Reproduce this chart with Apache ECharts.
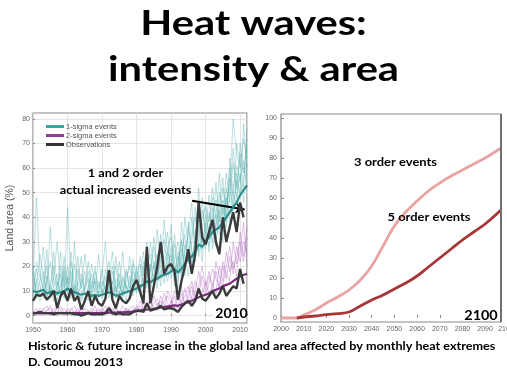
<!DOCTYPE html>
<html><head><meta charset="utf-8">
<script src="https://cdn.jsdelivr.net/npm/echarts@6/dist/echarts.min.js"></script>
<style>html,body{margin:0;padding:0;background:#fff}#c{width:507px;height:381px}</style>
</head><body><div id="c"></div>
<script>
// ---------- Left chart data (1950-2012) ----------
const years = [1950,1951,1952,1953,1954,1955,1956,1957,1958,1959,
1960,1961,1962,1963,1964,1965,1966,1967,1968,1969,
1970,1971,1972,1973,1974,1975,1976,1977,1978,1979,
1980,1981,1982,1983,1984,1985,1986,1987,1988,1989,
1990,1991,1992,1993,1994,1995,1996,1997,1998,1999,
2000,2001,2002,2003,2004,2005,2006,2007,2008,2009,
2010,2011,2012];
const xTicksLeft = [1950,1960,1970,1980,1990,2000,2010];
const yTicksLeft = [0,10,20,30,40,50,60,70,80];

const teal1 = [14,48,18,10,7,12,9,6,20,11, 15,9,12,6,8,5,11,17,8,10, 7,14,22,9,12,6,10,19,13,8, 16,21,12,24,18,28,14,33,22,17, 25,12,20,31,18,36,27,22,45,30, 38,26,44,35,50,41,58,46,62,52, 66,58,72];
const teal2 = [8,12,25,15,9,36,14,11,7,18, 10,22,13,8,15,9,6,12,20,7, 11,8,15,26,10,14,7,12,9,21, 12,9,20,15,30,19,25,16,39,23, 18,29,14,24,33,21,40,28,35,48, 30,42,33,54,38,47,40,60,44,55, 50,78,60];
const teal3 = [18,9,14,28,11,8,16,30,13,9, 44,14,9,19,11,25,13,8,15,11, 17,30,10,13,20,9,15,11,24,14, 9,18,26,11,21,14,35,20,13,28, 32,20,11,38,24,16,30,44,26,36, 46,31,38,28,45,56,36,50,68,48, 58,46,62];
const teal4 = [5,15,8,12,20,10,6,14,9,24, 12,7,30,10,6,13,18,9,7,14, 9,12,7,18,8,22,12,6,16,10, 20,13,9,18,12,22,17,27,19,14, 21,16,26,17,29,23,19,35,24,31, 27,36,30,41,33,39,48,42,52,61, 54,63,57];
const teal5 = [20,10,6,9,14,22,11,8,12,16, 9,18,8,14,24,7,10,21,12,9, 14,10,18,8,15,11,26,9,13,18, 13,24,16,30,10,17,21,12,26,34, 15,23,30,20,40,28,22,31,52,27, 34,49,27,37,43,30,52,38,46,70, 62,52,76];
const teal6 = [10,19,12,7,16,9,26,12,17,7, 16,11,21,9,12,18,8,14,10,25, 8,19,11,14,7,17,9,15,20,12, 18,11,14,20,25,12,16,24,31,18, 28,18,24,15,26,33,46,25,39,22, 41,34,48,31,40,52,44,56,40,58, 48,56,68];
const teal7 = [15,7,10,18,8,13,20,9,26,12, 20,13,10,24,9,11,15,7,18,12, 12,16,9,11,24,13,8,18,11,15, 10,15,22,13,17,32,20,15,22,26, 20,33,17,27,21,25,33,40,30,43, 35,28,40,47,35,44,38,64,50,45, 70,60,54];
const teal8 = [9,22,16,11,27,7,12,17,8,20, 13,26,7,12,17,10,22,11,14,8, 19,9,13,20,11,8,16,12,9,23, 15,8,18,25,14,20,11,29,17,21, 37,14,21,30,16,38,24,28,34,40, 44,38,52,40,58,36,46,52,80,66, 60,72,64];

const purple1 = [1,2,0,3,1,0,2,1,4,1, 2,0,1,3,0,1,2,0,1,3, 1,2,4,1,0,2,1,3,1,2, 3,1,5,2,6,3,2,8,4,3, 6,2,4,9,5,7,12,6,10,8, 14,9,12,18,11,20,15,24,17,28, 22,30,26];
const purple2 = [0,1,3,1,2,4,1,0,2,3, 1,2,4,1,2,0,1,3,2,1, 3,1,2,0,3,1,4,2,0,3, 1,4,2,6,3,5,7,3,9,5, 4,8,3,6,11,5,8,14,9,16, 10,16,13,9,20,14,26,18,22,16, 34,24,36];
const purple3 = [2,0,1,2,4,1,3,2,1,0, 3,1,2,0,4,2,1,2,0,2, 2,4,1,3,1,2,0,3,2,1, 4,2,3,5,2,8,4,6,3,10, 7,3,9,5,8,12,6,10,18,11, 8,13,19,15,12,22,17,14,30,21, 26,38,20];
const purple4 = [1,3,1,0,2,3,0,4,2,1, 0,3,1,2,1,3,2,1,4,0, 2,1,3,2,4,0,2,1,3,4, 2,6,3,4,7,2,5,4,6,8, 5,10,6,12,4,9,14,8,12,20, 12,18,10,22,16,12,20,28,19,24, 30,22,32];

const tealMean = [10,9.5,10,10.5,9,9.5,10,9,9.5,10, 11,10,9.5,9,8.5,9,8.5,8,8.5,8, 8.5,9,9.5,9,8,8.5,9,9.5,10,10.5, 11,12,12.5,14,13.5,14.5,15,16,16.5,17, 18,19,17.5,19,21,23,24,26,29,28, 30,32,34,35,36,38,40,42,44,46, 49,51,53];
const purpleMean = [1,1,1,1,1,1,1,1,1,1, 1,1,1,1,1,1,1,1,1,1, 1,1,1.2,1.2,1.2,1.3,1.3,1.4,1.5,1.6, 1.8,2,2.2,2.5,2.5,2.8,3,3.2,3.5,3.8, 4,4.2,4,4.5,5,5.5,6,6.8,7.5,8, 8.5,9,10,10.5,11,12,12.5,13,14,15, 16,16.5,17];
const obs1sigma = [6,8.5,8,9,6.5,8,10,3,8,10, 6,11,6,8,2.5,6,10,4,8,5, 4,7,18.5,6.5,3,8,6,5,7,12, 14.5,10,5,28,5,12,20,30,17,20, 21,18,6.5,14,20,27,17,25,46,32, 29,34,39,30,25,40,30,36,42,34, 46,40,null];
const obs2sigma = [1,1,1.5,1,1,1,0.5,1,1,1, 1,1,0.5,0.5,0,0.5,1,0.5,0.5,0.5, 0.5,1,3,1,0.5,1,0.5,0.5,0.5,1.5, 2,2,1.5,5,2,2.5,3,4,2.5,3, 3,2.5,1.5,3.5,5,6,4,6,11,7, 6,8,10,7,9,12,8,10,12,11, 19,13,null];

const bandYears = [1950,1955,1960,1965,1970,1975,1980,1985,1990,1995,2000,2005,2010,2012];
const tealLow  = [2,2,2,2,2,2,3,4,5,8,12,18,25,30];
const tealHigh = [20,22,20,18,19,20,24,30,33,38,48,58,70,72];
const purpleLow  = [0,0,0,0,0,0,0,0,0,0,0,0,0,0];
const purpleHigh = [3,3,3,3,3,4,5,8,10,14,20,28,36,40];

// ---------- Right chart data ----------
const xTicksRight = [2000,2010,2020,2030,2040,2050,2060,2070,2080,2090];
const yTicksRight = [0,10,20,30,40,50,60,70,80,90,100];
const order3Years = [2000,2007,2010,2015,2020,2025,2030,2035,2040,2045,2050,2055,2060,2065,2070,2075,2080,2085,2090,2097];
const order3 = [0,0,1.5,4,7.5,10.5,14,19,26,36,46,53,58.5,63.5,67.5,71,74,77,80,85];
const order5Years = [2007,2010,2015,2020,2025,2030,2035,2040,2045,2050,2055,2060,2065,2070,2075,2080,2085,2090,2097];
const order5 = [0,0.5,1,1.7,2.2,3,6,9,11.5,14.5,17.5,21,25.5,30,34.5,39,43,47,54];

// ---------- build ----------
const pair = (xs, vs) => xs.map((x, i) => [x, vs[i]]);
const diff = (a, b) => a.map((v, i) => v - b[i]);
const FONT = 'Lato, "Open Sans", sans-serif';
const SANS = '"Liberation Sans", Arial, sans-serif';
const plain = v => String(v);

const thinTeal = [teal1,teal2,teal3,teal4,teal5,teal6,teal7,teal8].map((d, i) => ({
  type:'line', name:'t'+i, xAxisIndex:0, yAxisIndex:0, data:pair(years,d), showSymbol:false, silent:true,
  lineStyle:{width:0.7, color:'rgba(70,165,165,0.5)'}, z:3
}));
const thinPurple = [purple1,purple2,purple3,purple4].map((d, i) => ({
  type:'line', name:'p'+i, xAxisIndex:0, yAxisIndex:0, data:pair(years,d), showSymbol:false, silent:true,
  lineStyle:{width:0.7, color:'rgba(170,80,185,0.5)'}, z:5
}));
const band = (low, high, color, stack, z) => [
  {type:'line', name:stack+'L', stack:stack, xAxisIndex:0, yAxisIndex:0, data:pair(bandYears,low), showSymbol:false, silent:true, lineStyle:{width:0, opacity:0}, z:z},
  {type:'line', name:stack+'H', stack:stack, xAxisIndex:0, yAxisIndex:0, data:pair(bandYears,diff(high,low)), showSymbol:false, silent:true, lineStyle:{width:0, opacity:0}, areaStyle:{color:color}, z:z}
];

const axisLabelStyle = {color:'#666', fontSize:7, fontFamily:SANS, formatter:plain};

const txt = (t, x, y, size, sx, extra) => ({type:'text', x:x, y:y, scaleX:sx, z:20,
  style:Object.assign({text:t, font:'bold '+size+'px '+FONT, fill:'#000', textAlign:'center', textVerticalAlign:'middle'}, extra||{})});

const option = {
  animation:false,
  backgroundColor:'#fff',
  grid:[
    {left:33, top:113, width:214, height:210, show:true, borderColor:'#8a8a8a', borderWidth:1.2, backgroundColor:'#fff', containLabel:false},
    {left:281, top:114, width:220, height:208, show:true, borderColor:'#8a8a8a', borderWidth:1.2, backgroundColor:'#fff', containLabel:false}
  ],
  legend:{
    data:['1-sigma events','2-sigma events','Observations'],
    orient:'vertical', left:41, top:117, itemWidth:18, itemHeight:3, itemGap:0, icon:'rect', selectedMode:false,
    textStyle:{color:'#555', fontSize:7.5, lineHeight:9, fontFamily:SANS, padding:[0,0,0,-3]}
  },
  xAxis:[
    {type:'value', gridIndex:0, min:1950, max:2012, interval:10,
     axisLine:{show:false}, axisTick:{show:true, inside:true, length:2, lineStyle:{color:'#888'}},
     axisLabel:{...axisLabelStyle, margin:4, customValues:xTicksLeft},
     splitLine:{show:true, lineStyle:{color:'#dedede', width:0.8}}},
    {type:'value', gridIndex:1, min:2000, max:2097, interval:10,
     axisLine:{show:false}, axisTick:{show:true, inside:true, length:3, lineStyle:{color:'#888'}},
     axisLabel:{...axisLabelStyle, margin:4, customValues:xTicksRight},
     splitLine:{show:false}}
  ],
  yAxis:[
    {type:'value', gridIndex:0, min:-3, max:82.4,
     name:'Land area (%)', nameLocation:'middle', nameGap:17, nameRotate:90,
     nameTextStyle:{color:'#555', fontSize:10.5, fontFamily:SANS},
     axisLine:{show:false}, axisTick:{show:true, inside:true, length:2, customValues:yTicksLeft, lineStyle:{color:'#888'}},
     axisLabel:{...axisLabelStyle, margin:3, customValues:yTicksLeft},
     splitLine:{show:true, lineStyle:{color:'#dedede', width:0.8}}},
    {type:'value', gridIndex:1, min:-2, max:102,
     axisLine:{show:false}, axisTick:{show:true, inside:true, length:3, customValues:yTicksRight, lineStyle:{color:'#888'}},
     axisLabel:{...axisLabelStyle, margin:4, customValues:yTicksRight},
     splitLine:{show:false}}
  ],
  series:[
    ...band(tealLow, tealHigh, 'rgba(110,190,185,0.3)', 'tb', 2),
    ...thinTeal,
    ...band(purpleLow, purpleHigh, 'rgba(195,120,205,0.3)', 'pb', 4),
    ...thinPurple,
    {type:'line', name:'1-sigma events', xAxisIndex:0, yAxisIndex:0, data:pair(years,tealMean), showSymbol:false, symbol:'none',
     lineStyle:{width:2.2, color:'#2a8f8c'}, itemStyle:{color:'#3aa5a2'}, z:6},
    {type:'line', name:'Observations', xAxisIndex:0, yAxisIndex:0, data:pair(years,obs1sigma), showSymbol:false, symbol:'none',
     lineStyle:{width:2.4, color:'#3b3b3b'}, itemStyle:{color:'#333'}, z:8,
     markLine:{silent:true, symbol:['none','arrow'], symbolSize:[8,9], label:{show:false},
       lineStyle:{color:'#000', width:2, type:'solid'},
       data:[[{coord:[1996.1,46.7]},{coord:[2011.3,43.2]}]]}},
    {type:'line', name:'2-sigma events', xAxisIndex:0, yAxisIndex:0, data:pair(years,purpleMean), showSymbol:false, symbol:'none',
     lineStyle:{width:2.2, color:'#7b2d82'}, itemStyle:{color:'#8e3f96'}, z:7},
    {type:'line', name:'Observations', xAxisIndex:0, yAxisIndex:0, data:pair(years,obs2sigma), showSymbol:false, symbol:'none',
     lineStyle:{width:2.4, color:'#3b3b3b'}, itemStyle:{color:'#333'}, z:8},
    {type:'line', name:'3 order events', xAxisIndex:1, yAxisIndex:1, data:pair(order3Years,order3), smooth:0.4, showSymbol:false,
     lineStyle:{width:2.8, color:'#e9a3a3'}, z:3},
    {type:'line', name:'5 order events', xAxisIndex:1, yAxisIndex:1, data:pair(order5Years,order5), smooth:0.4, showSymbol:false,
     lineStyle:{width:2.8, color:'#a83636'}, z:4}
  ],
  graphic:[
    txt('Heat waves:', 253.5, 23.5, 35, 1.19),
    txt('intensity & area', 253.5, 69.5, 35, 1.19),
    txt('1 and 2 order', 125.5, 173, 12, 1.06),
    txt('actual increased events', 125.5, 190, 12, 1.06),
    {type:'rect', z:20, shape:{x:213, y:305, width:33, height:17}, style:{fill:'#fff'}},
    txt('2010', 231.5, 313.5, 14, 1),
    txt('3 order events', 395.5, 162, 12, 1.08),
    txt('5 order events', 429, 217, 12, 1.08),
    {type:'rect', z:20, shape:{x:462, y:306, width:38, height:15}, style:{fill:'#fff'}},
    txt('2100', 481, 315, 14, 1.03),
    {type:'line', z:21, shape:{x1:501, y1:114, x2:501, y2:322}, style:{stroke:'#6f6f6f', lineWidth:2}},
    {type:'text', x:506, y:329, z:21, style:{text:'2100', font:'7px '+SANS, fill:'#666', textAlign:'center', textVerticalAlign:'middle'}},
    {type:'text', x:28, y:347, scaleX:1.2, z:20, style:{text:'Historic & future increase in the global land area affected by monthly heat extremes', font:'bold 10.5px '+FONT, fill:'#000', textVerticalAlign:'middle'}},
    {type:'text', x:28, y:363, scaleX:1.2, z:20, style:{text:'D. Coumou 2013', font:'bold 10.5px '+FONT, fill:'#000', textVerticalAlign:'middle'}}
  ]
};
const chart = echarts.init(document.getElementById('c'), null, {renderer:'canvas'});
chart.setOption(option);
</script></body></html>
